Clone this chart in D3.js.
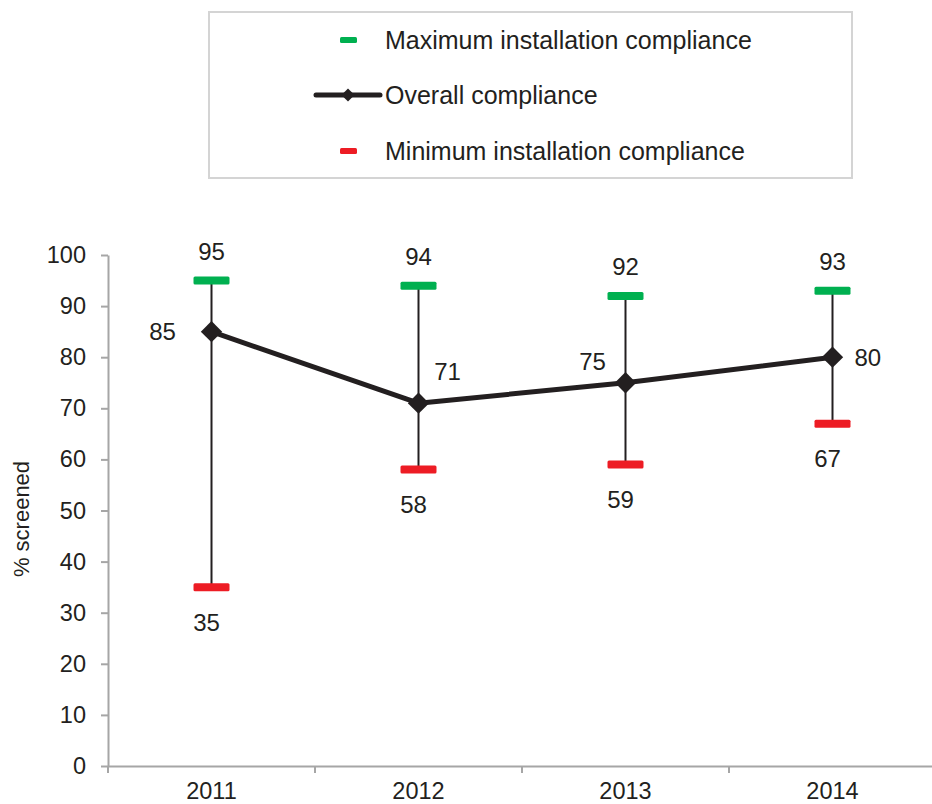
<!DOCTYPE html>
<html><head><meta charset="utf-8">
<script src="https://cdn.jsdelivr.net/npm/d3@7"></script>
<style>body{margin:0;background:#fff}svg{display:block;font-family:"Liberation Sans",Arial,sans-serif}</style>
</head><body><svg id="c" width="932" height="804"></svg>
<script>
const years = ["2011","2012","2013","2014"];
const overall = [85, 71, 75, 80];
const maxComp = [95, 94, 92, 93];
const minComp = [35, 58, 59, 67];
const yTicks = [0,10,20,30,40,50,60,70,80,90,100];
const legendLabels = ["Maximum installation compliance","Overall compliance","Minimum installation compliance"];
const yTitle = "% screened";

const svg = d3.select("#c");
const GREEN = "#00b050", RED = "#ed1c24", DARK = "#231f20", GREY = "#a6a6a6";
const x = d3.scaleBand().domain(years).range([108, 108 + 4*207]).padding(0);
const y = d3.scaleLinear().domain([0,100]).range([766, 255]);
const cx = d => x(d) + x.bandwidth()/2;

// legend
const lg = svg.append("g");
lg.append("rect").attr("x",209).attr("y",12).attr("width",643).attr("height",166)
  .attr("fill","#fff").attr("stroke","#d4d4d4").attr("stroke-width",2);
const ly = [40, 95, 151];
lg.append("rect").attr("x",340).attr("y",ly[0]-3).attr("width",17).attr("height",6).attr("rx",1.5).attr("fill",GREEN);
lg.append("rect").attr("x",340).attr("y",ly[2]-3).attr("width",17).attr("height",6).attr("rx",1.5).attr("fill",RED);
lg.append("line").attr("x1",316).attr("x2",380).attr("y1",ly[1]).attr("y2",ly[1]).attr("stroke",DARK).attr("stroke-width",5).attr("stroke-linecap","round");
lg.append("path").attr("d",d3.symbol(d3.symbolDiamond2, 110)()).attr("transform",`translate(348,${ly[1]})`).attr("fill",DARK);
lg.selectAll("text.l").data(legendLabels).join("text").attr("class","l")
  .attr("x",385).attr("y",(d,i)=>ly[i]).attr("dy","0.35em")
  .attr("font-size",25).attr("fill",DARK).text(d=>d);

// y axis
const ya = svg.append("g").attr("transform","translate(108,0)")
  .call(d3.axisLeft(y).tickValues(yTicks).tickSize(7).tickPadding(15).tickSizeOuter(0));
ya.select(".domain").attr("stroke",GREY).attr("stroke-width",2);
ya.selectAll(".tick line").attr("stroke",GREY).attr("stroke-width",2);
ya.selectAll(".tick text").attr("font-size",23.5).attr("fill",DARK).attr("font-family","Liberation Sans, Arial, sans-serif");

// x axis
const xa = svg.append("g").attr("transform","translate(0,766)")
  .call(d3.axisBottom(x).tickSize(0).tickPadding(16).tickSizeOuter(0));
xa.select(".domain").attr("stroke",GREY).attr("stroke-width",2);
xa.selectAll(".tick text").attr("font-size",23.5).attr("fill",DARK).attr("font-family","Liberation Sans, Arial, sans-serif");
const bounds = years.map(d => x(d));
xa.selectAll("line.b").data(bounds).join("line").attr("class","b")
  .attr("x1",d=>d).attr("x2",d=>d).attr("y1",0).attr("y2",7).attr("stroke",GREY).attr("stroke-width",2);

svg.append("text").attr("transform",`translate(29,519) rotate(-90)`).attr("text-anchor","middle")
  .attr("font-size",22).attr("fill",DARK).text(yTitle);

// error bars
const g = svg.append("g");
g.selectAll("line.e").data(years).join("line").attr("class","e")
  .attr("x1",cx).attr("x2",cx).attr("y1",(d,i)=>y(maxComp[i])).attr("y2",(d,i)=>y(minComp[i]))
  .attr("stroke",DARK).attr("stroke-width",2);
g.selectAll("rect.mx").data(years).join("rect").attr("class","mx")
  .attr("x",d=>cx(d)-18).attr("y",(d,i)=>y(maxComp[i])-4).attr("width",36).attr("height",8).attr("rx",1.5).attr("fill",GREEN);
g.selectAll("rect.mn").data(years).join("rect").attr("class","mn")
  .attr("x",d=>cx(d)-18).attr("y",(d,i)=>y(minComp[i])-4).attr("width",36).attr("height",8).attr("rx",1.5).attr("fill",RED);

// overall line
const line = d3.line().x((d,i)=>cx(years[i])).y(d=>y(d));
g.append("path").attr("d",line(overall)).attr("fill","none").attr("stroke",DARK).attr("stroke-width",5).attr("stroke-linejoin","round");
g.selectAll("path.dm").data(overall).join("path").attr("class","dm")
  .attr("d",d3.symbol(d3.symbolDiamond2, 290)())
  .attr("transform",(d,i)=>`translate(${cx(years[i])},${y(d)})`).attr("fill",DARK);

// labels
const lab = {font:24};
g.selectAll("text.mx").data(maxComp).join("text").attr("class","mx")
  .attr("x",(d,i)=>cx(years[i])).attr("y",d=>y(d)-29).attr("dy","0.35em").attr("text-anchor","middle")
  .attr("font-size",lab.font).attr("fill",DARK).text(d=>d);
g.selectAll("text.mn").data(minComp).join("text").attr("class","mn")
  .attr("x",(d,i)=>cx(years[i])-5).attr("y",d=>y(d)+35).attr("dy","0.35em").attr("text-anchor","middle")
  .attr("font-size",lab.font).attr("fill",DARK).text(d=>d);
const ovOff = [[-49,0],[29,-32],[-33,-21],[22,0]];
g.selectAll("text.ov").data(overall).join("text").attr("class","ov")
  .attr("x",(d,i)=>cx(years[i])+ovOff[i][0]).attr("y",(d,i)=>y(d)+ovOff[i][1]).attr("dy","0.35em")
  .attr("text-anchor",(d,i)=>ovOff[i][0]<0?"middle":(i===3?"start":"middle"))
  .attr("font-size",lab.font).attr("fill",DARK).text(d=>d);
</script></body></html>
